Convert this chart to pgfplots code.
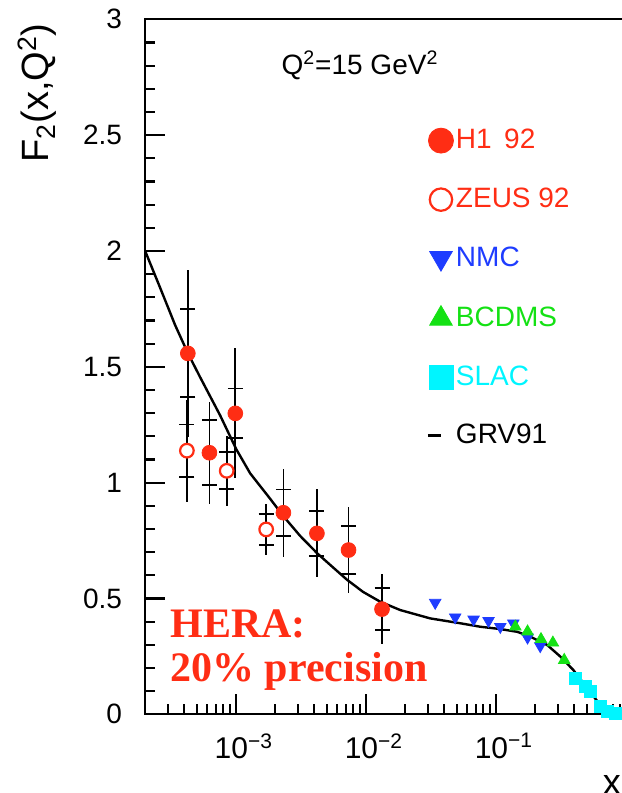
\documentclass[border=0pt]{standalone}
\usepackage{fontspec}
\setmainfont{Liberation Sans}
\newfontfamily\herafont{Liberation Serif}
\usepackage{pgfplots}
\usepackage{pgfplotstable}
\pgfplotsset{compat=1.18}
\definecolor{hred}{RGB}{255,45,20}
\definecolor{nmcblue}{RGB}{30,60,255}
\definecolor{bgreen}{RGB}{20,225,20}
\definecolor{scyan}{RGB}{0,245,255}

\pgfplotsset{
  bigmark/.style={legend image code/.code={\path[draw=none,fill=none] (-6.5pt,-6pt) rectangle (6.5pt,6pt); \draw[##1, mark size=#1] plot coordinates {(0pt,0pt)};}},
  lineleg/.style={legend image code/.code={\path[draw=none,fill=none] (-6.5pt,-6pt) rectangle (6.5pt,6pt); \draw[##1] (-6.5pt,0pt) -- (0pt,0pt);}},
}

\pgfplotstableread{
x y stat tot
4.27e-4 1.558 0.19 0.36
6.26e-4 1.129 0.14 0.22
9.9e-4 1.299 0.107 0.28
2.32e-3 0.870 0.10 0.19
4.20e-3 0.781 0.098 0.19
7.35e-3 0.709 0.103 0.184
1.33e-2 0.454 0.09 0.15
}\hone

\pgfplotstableread{
x y stat tot
4.2e-4 1.138 0.113 0.22
8.5e-4 1.051 0.08 0.15
1.71e-3 0.798 0.068 0.11
}\zeus

\pgfplotstableread{
x y
0.0341 0.482
0.0486 0.419
0.0673 0.410
0.0877 0.404
0.108 0.378
0.136 0.393
0.175 0.332
0.219 0.295
}\nmc

\pgfplotstableread{
x y
0.141 0.378
0.175 0.357
0.222 0.324
0.274 0.309
0.335 0.234
}\bcdms

\pgfplotstableread{
x y
0.407 0.155
0.486 0.12
0.535 0.10
0.634 0.035
0.725 0.011
0.83 0.003
}\slac

\pgfplotstableread{
x y
2.005e-4 2.00
2.62e-4 1.84
3.41e-4 1.68
4.28e-4 1.558
5.31e-4 1.455
7.57e-4 1.29
1.005e-3 1.145
1.288e-3 1.04
1.538e-3 0.985
1.837e-3 0.93
2.32e-3 0.855
3.12e-3 0.77
4.22e-3 0.695
5.31e-3 0.645
7.18e-3 0.58
9.53e-3 0.528
1.288e-2 0.486
1.836e-2 0.450
3.12e-2 0.414
5.31e-2 0.393
7.57e-2 0.378
0.1078 0.368
0.146 0.356
0.184 0.335
0.248 0.299
0.313 0.249
0.394 0.191
0.505 0.112
0.634 0.040
0.798 0.006
0.937 0.0
}\grv

\begin{document}
\begin{tikzpicture}
\begin{axis}[
  scale only axis, width=240.5pt, height=347.5pt,
  xmode=log, xmin=2e-4, xmax=1, ymin=0, ymax=3,
  axis line style={line width=1.1pt},
  tick align=inside, xtick pos=left, ytick pos=left,
  xtick={1e-3,1e-2,1e-1,1},
  xticklabels={10\textsuperscript{−3},10\textsuperscript{−2},10\textsuperscript{−1},1},
  minor xtick={2e-4,3e-4,4e-4,5e-4,6e-4,7e-4,8e-4,9e-4,2e-3,3e-3,4e-3,5e-3,6e-3,7e-3,8e-3,9e-3,2e-2,3e-2,4e-2,5e-2,6e-2,7e-2,8e-2,9e-2,2e-1,3e-1,4e-1,5e-1,6e-1,7e-1,8e-1,9e-1},
  ytick={0,0.5,1,1.5,2,2.5,3},
  yticklabels={0,0.5,1,1.5,2,2.5,3},
  minor y tick num=4,
  major tick length=10pt, minor tick length=5pt,
  tick style={black, line width=1.1pt},
  xticklabel style={font=\fontsize{15}{17}\selectfont, xshift=4pt, yshift=-6pt},
  yticklabel style={font=\fontsize{14}{16}\selectfont, xshift=-8pt},
  legend style={at={(rel axis cs:0.585,0.844)}, anchor=north west, draw=none, fill=none,
    font=\fontsize{14}{16}\selectfont, row sep=17.25pt, column sep=1pt, inner sep=0pt,
    nodes={inner sep=0pt}},
  legend cell align=left,
]
% error bars
\addplot[forget plot, draw=none, mark=none, error bars/.cd, y dir=both, y explicit, error mark=none,
  error bar style={draw=black, line width=0.9pt}] table[x=x,y=y,y error=tot] {\hone};
\addplot[forget plot, draw=none, mark=none, error bars/.cd, y dir=both, y explicit,
  error bar style={draw=black, line width=0.9pt},
  error mark options={draw=black, line width=0.9pt, mark size=3.75pt, rotate=90}] table[x=x,y=y,y error=stat] {\hone};
\addplot[forget plot, draw=none, mark=none, error bars/.cd, y dir=both, y explicit, error mark=none,
  error bar style={draw=black, line width=0.9pt}] table[x=x,y=y,y error=tot] {\zeus};
\addplot[forget plot, draw=none, mark=none, error bars/.cd, y dir=both, y explicit,
  error bar style={draw=black, line width=0.9pt},
  error mark options={draw=black, line width=0.9pt, mark size=3.75pt, rotate=90}] table[x=x,y=y,y error=stat] {\zeus};
% markers
\addplot[only marks, mark=*, mark size=3.7pt, draw=hred, fill=hred, bigmark=6.25pt] table[x=x,y=y] {\hone};
\addlegendentry{\textcolor{hred}{H1\, 92}}
\addplot[only marks, mark=*, mark size=3.4pt, draw=hred, fill=white, line width=1.1pt, bigmark=5.6pt] table[x=x,y=y] {\zeus};
\addlegendentry{\textcolor{hred}{ZEUS 92}}
\addplot[only marks, mark=triangle*, mark size=3.3pt, mark options={rotate=180}, draw=nmcblue, fill=nmcblue, bigmark=6.5pt] table[x=x,y=y] {\nmc};
\addlegendentry{\textcolor{nmcblue}{NMC}}
\addplot[only marks, mark=triangle*, mark size=3.3pt, draw=bgreen, fill=bgreen, bigmark=6.5pt] table[x=x,y=y] {\bcdms};
\addlegendentry{\textcolor{bgreen}{BCDMS}}
\addplot[only marks, mark=square*, mark size=3pt, draw=scyan, fill=scyan, bigmark=6pt] table[x=x,y=y] {\slac};
\addlegendentry{\textcolor{scyan}{SLAC}}
\addplot[black, line width=1.2pt, mark=none, line join=round, lineleg] table[x=x,y=y] {\grv};
\addlegendentry{GRV91}

\node[anchor=base, font=\fontsize{14}{16}\selectfont] at (rel axis cs:0.447,0.920) {Q\textsuperscript{2}=15 GeV\textsuperscript{2}};
\node[anchor=base west, font=\herafont\bfseries\fontsize{21}{24}\selectfont, text=hred, inner sep=0pt] at (rel axis cs:0.052,0.111) {HERA:};
\node[anchor=base west, font=\herafont\bfseries\fontsize{21}{24}\selectfont, text=hred, inner sep=0pt] at (rel axis cs:0.052,0.0465) {20\% precision};
\end{axis}
\node[rotate=90, anchor=base east, font=\fontsize{19}{22}\selectfont, inner sep=0pt] at ([xshift=-48pt,yshift=-1.85pt]current axis.north west) {F\textsubscript{2}(x,Q\textsuperscript{2})};
\node[anchor=base, font=\fontsize{18}{20}\selectfont, inner sep=0pt] at ([xshift=-7pt,yshift=-39.85pt]current axis.south east) {x};
\pgfresetboundingbox
\path[use as bounding box] ([shift={(-72.5pt,-39.35pt)}]current axis.south west) rectangle ([shift={(-2pt,9.65pt)}]current axis.north east);
\end{tikzpicture}
\end{document}
